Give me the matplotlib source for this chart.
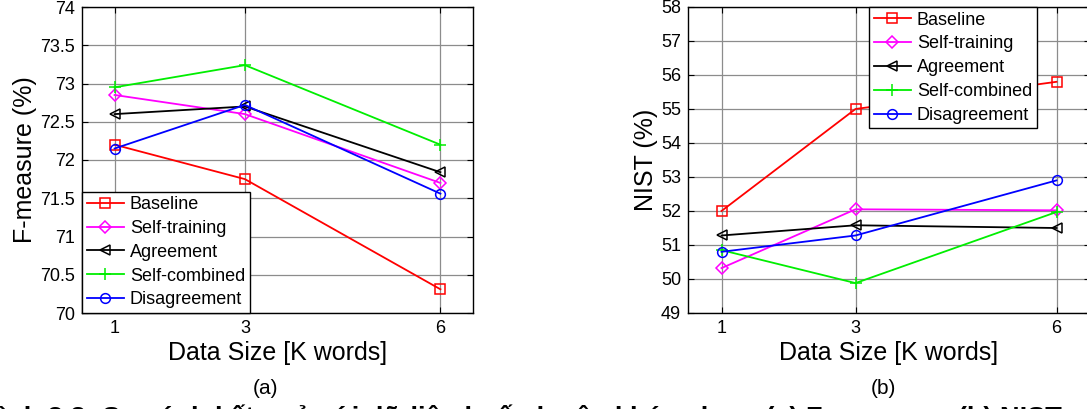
import numpy as np
import matplotlib.pyplot as plt

plt.rcParams['font.family'] = ['Liberation Sans', 'DejaVu Sans']

# data size in K words
sizes = [1, 3, 6]
names = ['Baseline', 'Self-training', 'Agreement', 'Self-combined', 'Disagreement']

fmeasure_baseline = [72.2, 71.75, 70.31]
fmeasure_self_training = [72.85, 72.6, 71.7]
fmeasure_agreement = [72.6, 72.7, 71.84]
fmeasure_self_combined = [72.95, 73.24, 72.2]
fmeasure_disagreement = [72.15, 72.72, 71.56]

nist_baseline = [52.0, 55.0, 55.8]
nist_self_training = [50.32, 52.05, 52.02]
nist_agreement = [51.28, 51.58, 51.5]
nist_self_combined = [50.85, 49.88, 51.97]
nist_disagreement = [50.8, 51.28, 52.9]

styles = [('r', 's'), ('#ff00ff', 'D'), ('k', '<'), ('#00ee00', '+'), ('b', 'o')]

fig = plt.figure(figsize=(10.87, 4.09), dpi=100)
ax1 = fig.add_axes([82/1087, 1 - 313/409, 391/1087, 306/409])
ax2 = fig.add_axes([688/1087, 1 - 313/409, 402/1087, 306/409])


def draw(ax, series, ylim, yticks, ylabel):
    for (c, m), vals, name in zip(styles, series, names):
        ms = 7
        if m == 'D':
            ms = 6
        if m == '+':
            ms = 9
        ax.plot(sizes, vals, color=c, marker=m, markersize=ms, markerfacecolor='none',
                markeredgecolor=c, markeredgewidth=1.1, linewidth=1.3, label=name)
    ax.set_xlim(0.5, 6.5)
    ax.set_ylim(*ylim)
    ax.set_xticks(sizes)
    ax.set_yticks(yticks)
    ax.grid(True, color='#8c8c8c', linewidth=0.9)
    ax.tick_params(direction='in', top=True, right=True, labelsize=13, length=4, pad=5)
    ax.set_xlabel('Data Size [K words]', fontsize=18, labelpad=3)
    ax.set_ylabel(ylabel, fontsize=18, labelpad=2)
    for s in ax.spines.values():
        s.set_linewidth(1.0)


draw(ax1, [fmeasure_baseline, fmeasure_self_training, fmeasure_agreement,
           fmeasure_self_combined, fmeasure_disagreement],
     (70, 74), np.arange(70, 74.01, 0.5), 'F-measure (%)')
ax1.set_yticklabels(['70', '70.5', '71', '71.5', '72', '72.5', '73', '73.5', '74'])

draw(ax2, [nist_baseline, nist_self_training, nist_agreement,
           nist_self_combined, nist_disagreement],
     (49, 58), np.arange(49, 59), 'NIST (%)')

leg_opts = dict(fontsize=13, fancybox=False, edgecolor='k', framealpha=1,
                handlelength=2.1, borderpad=0.25, labelspacing=0.38,
                handletextpad=0.3, borderaxespad=0)
leg1 = ax1.legend(loc='lower left', bbox_to_anchor=(0.0, 0.0), **leg_opts)
leg1.get_frame().set_linewidth(1.0)
leg2 = ax2.legend(loc='upper left', bbox_to_anchor=(181/402, 1.0), **leg_opts)
leg2.get_frame().set_linewidth(1.0)

fig.text(265/1087, 1 - 388/409, '(a)', fontsize=15, ha='center', va='center')
fig.text(883/1087, 1 - 388/409, '(b)', fontsize=15, ha='center', va='center')
# figure caption sits at the bottom edge of the page crop
fig.text(-20/1087, 1 - 404/409, 'Hình 3.3: So sánh kết quả với dữ liệu huấn luyện khác nhau: (a) F-measure, (b) NIST',
         fontsize=19.5, ha='left', va='top', fontweight='bold')

fig.savefig('out.png', dpi=100)
